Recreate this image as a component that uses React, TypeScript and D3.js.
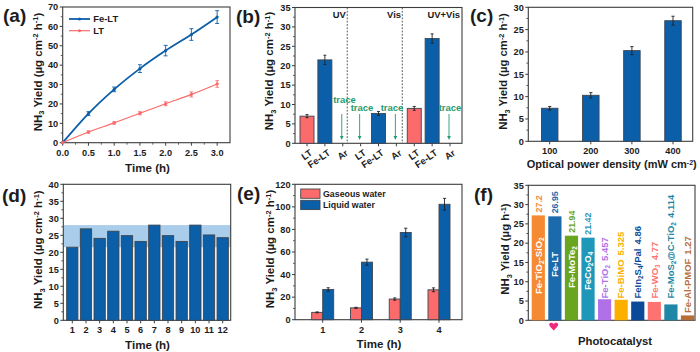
import React from "react";
import * as d3 from "d3";

const FONT = "'Liberation Sans', Arial, sans-serif";
const INK = "#1c1c1c";
const BLUE = "#0b5ea8";
const RED = "#fb6b6b";
const FRAME = "#3c3c3c";

const timeA = [0, 0.5, 1, 1.5, 2, 2.5, 3];
const feLT = [0, 15, 27.5, 38.2, 47.5, 55.8, 64.8];
const feLTErr = [0, 1, 1.2, 2, 2.7, 3, 3.3];
const lt = [0, 5.5, 10.2, 15.2, 20.1, 24.9, 30.3];
const ltErr = [0, 0.6, 0.6, 0.8, 1, 1.3, 1.7];

const catB = ["LT", "Fe-LT", "Ar", "LT", "Fe-LT", "Ar", "LT", "Fe-LT", "Ar"];
const valB = [7, 21.5, null, null, 7.7, null, 9, 27, null];
const errB = [0.4, 1.2, 0, 0, 0.5, 0, 0.5, 1.2, 0];
const traceB = [2, 3, 5, 8];
const dividersB = [2.25, 5.33];

const catC = ["100", "200", "300", "400"];
const valC = [7.4, 10.3, 20.3, 27];
const errC = [0.4, 0.6, 0.9, 1];

const catD = ["1", "2", "3", "4", "5", "6", "7", "8", "9", "10", "11", "12"];
const valD = [21.5, 26.9, 24.1, 26.2, 24.9, 23.2, 28, 24.9, 23.2, 28, 25.1, 24.3];
const bandD = [21.5, 28];

const catE = ["1", "2", "3", "4"];
const gasE = [6.5, 10.5, 18.3, 26.5];
const gasErr = [0.4, 0.5, 1, 1.7];
const liqE = [26.8, 51, 77.3, 102.3];
const liqErr = [1.5, 2.7, 3.8, 5.2];

const namesF = [
  ["Fe-TiO", "2", "-SiO", "2"],
  ["Fe-LT"],
  ["Fe-MoTe", "2"],
  ["FeCo", "2", "O", "4"],
  ["Fe-TiO", "2"],
  ["Fe-BiMO"],
  ["FeIn", "2", "S", "4", "/Pal"],
  ["Fe-WO", "3"],
  ["Fe-MoS", "2", "@C-TiO", "2"],
  ["Fe-Al-PMOF"],
];
const valF = [27.2, 26.95, 21.94, 21.42, 5.457, 5.325, 4.86, 4.77, 4.114, 1.27];
const labelF = ["27.2", "26.95", "21.94", "21.42", "5.457", "5.325", "4.86", "4.77", "4.114", "1.27"];
const colF = ["#f58a33", "#1a6aac", "#6aa520", "#1f97b8", "#b071e8", "#fbb000", "#0b4a9a", "#ff7272", "#1d87a5", "#b5703a"];

type Box = { l: number; r: number; t: number; b: number };

function T(p: any) {
  return <text fontFamily={FONT} fontWeight={700} fill={INK} {...p} />;
}

function YTitle({ x, y, size = 11.5, unit = "cm" }: any) {
  return (
    <text transform={`translate(${x},${y}) rotate(-90)`} textAnchor="middle" fontFamily={FONT} fontWeight={700} fontSize={size} fill={INK}>
      NH<tspan fontSize={size * 0.65} dy={2.5}>3</tspan>
      <tspan dy={-2.5}> Yield (µg </tspan>
      {unit === "cm" ? (
        <>
          <tspan>cm</tspan>
          <tspan fontSize={size * 0.65} dy={-3.5}>-2</tspan>
          <tspan dy={3.5}> h</tspan>
        </>
      ) : (
        <tspan>h</tspan>
      )}
      <tspan fontSize={size * 0.65} dy={-3.5}>-1</tspan>
      <tspan dy={3.5}>)</tspan>
    </text>
  );
}

function Frame({ box, y, yTicks, yMinor, xTicks, xMinor, tickSize = 9.2 }: any) {
  return (
    <g>
      <rect x={box.l} y={box.t} width={box.r - box.l} height={box.b - box.t} fill="none" stroke={FRAME} strokeWidth={1.1} />
      {yTicks.map((v: number) => (
        <g key={v}>
          <line x1={box.l - 3} x2={box.l} y1={y(v)} y2={y(v)} stroke={FRAME} strokeWidth={1} />
          <T x={box.l - 4.5} y={y(v) + 3.3} textAnchor="end" fontSize={tickSize}>{v}</T>
        </g>
      ))}
      {(yMinor || []).map((v: number) => (
        <line key={v} x1={box.l - 2} x2={box.l} y1={y(v)} y2={y(v)} stroke={FRAME} strokeWidth={0.8} />
      ))}
      {(xTicks || []).map((t: any, i: number) => (
        <g key={i}>
          <line x1={t.x} x2={t.x} y1={box.b} y2={box.b + 3} stroke={FRAME} strokeWidth={1} />
          {t.label != null && (
            <T x={t.x} y={box.b + 12.8} textAnchor="middle" fontSize={tickSize}>{t.label}</T>
          )}
        </g>
      ))}
      {(xMinor || []).map((x: number, i: number) => (
        <line key={i} x1={x} x2={x} y1={box.b} y2={box.b + 2} stroke={FRAME} strokeWidth={0.8} />
      ))}
    </g>
  );
}

function Err({ x, y0, y1, cap = 2 }: any) {
  return (
    <path d={`M${x - cap},${y0}H${x + cap}M${x},${y0}V${y1}M${x - cap},${y1}H${x + cap}`} fill="none" stroke="#222" strokeWidth={0.9} />
  );
}

function Bar({ x, w, y, base, fill }: any) {
  return <rect x={x - w / 2} y={y} width={w} height={base - y} fill={fill} stroke="#3d4650" strokeWidth={0.9} />;
}

function PanelA() {
  const box: Box = { l: 62.7, r: 230, t: 7, b: 142.7 };
  const x = d3.scaleLinear().domain([0, 3.25]).range([box.l, box.r]);
  const y = d3.scaleLinear().domain([0, 70]).range([box.b, box.t]);
  const line = d3.line<number>().x((_, i) => x(timeA[i])).y((d) => y(d)).curve(d3.curveMonotoneX);
  const series = [
    { v: feLT, e: feLTErr, c: BLUE, w: 1.8, cap: 2 },
    { v: lt, e: ltErr, c: RED, w: 1.2, cap: 1.8 },
  ];
  return (
    <g>
      <Frame box={box} y={y} yTicks={d3.range(0, 71, 10)} yMinor={d3.range(5, 70, 10)}
        xTicks={timeA.map((t) => ({ x: x(t), label: t.toFixed(1) }))}
        xMinor={d3.range(0.25, 3.25, 0.5).map((t) => x(t))} />
      {series.map((s, k) => (
        <g key={k}>
          <path d={line(s.v) || ""} fill="none" stroke={s.c} strokeWidth={s.w} />
          {s.v.map((v, i) => (
            <g key={i}>
              {s.e[i] > 0 && (
                <path d={`M${x(timeA[i]) - s.cap},${y(v - s.e[i])}H${x(timeA[i]) + s.cap}M${x(timeA[i])},${y(v - s.e[i])}V${y(v + s.e[i])}M${x(timeA[i]) - s.cap},${y(v + s.e[i])}H${x(timeA[i]) + s.cap}`} fill="none" stroke={s.c} strokeWidth={0.9} />
              )}
              <circle cx={x(timeA[i])} cy={y(v)} r={1.6} fill={s.c} />
            </g>
          ))}
        </g>
      ))}
      <line x1={69} x2={90} y1={19} y2={19} stroke={BLUE} strokeWidth={1.8} />
      <circle cx={79.5} cy={19} r={1.5} fill={BLUE} />
      <T x={93.3} y={22.3} fontSize={9.4}>Fe-LT</T>
      <line x1={69} x2={90} y1={30.7} y2={30.7} stroke={RED} strokeWidth={1.2} />
      <circle cx={79.5} cy={30.7} r={1.5} fill={RED} />
      <T x={93.3} y={34} fontSize={9.4}>LT</T>
      <YTitle x={41.5} y={72} />
      <T x={147.5} y={172} textAnchor="middle" fontSize={11.6}>Time (h)</T>
      <T x={3} y={22} fontSize={19}>(a)</T>
    </g>
  );
}

function PanelB() {
  const box: Box = { l: 295, r: 462, t: 7.5, b: 143.3 };
  const x = d3.scaleLinear().domain([0, 8]).range([307, 450]);
  const y = d3.scaleLinear().domain([0, 35]).range([box.b, box.t]);
  const traceY = [103, 111, 110.5, 111];
  const traceX = [344.5, 362, 392, 450];
  const GREEN = "#1f9d70";
  return (
    <g>
      <Frame box={box} y={y} yTicks={d3.range(0, 36, 5)} yMinor={d3.range(2.5, 35, 5)}
        xTicks={catB.map((_, i) => ({ x: x(i) }))} />
      {dividersB.map((v) => (
        <line key={v} x1={x(v)} x2={x(v)} y1={box.t} y2={box.b} stroke="#444" strokeWidth={0.9} strokeDasharray="1.8 1.5" />
      ))}
      {valB.map((v, i) => v == null ? null : (
        <g key={i}>
          <Bar x={x(i)} w={14} y={y(v)} base={box.b} fill={i % 3 === 0 ? RED : BLUE} />
          <Err x={x(i)} y0={y(v - errB[i])} y1={y(v + errB[i])} cap={1.5} />
        </g>
      ))}
      {catB.map((c, i) => (
        <T key={i} transform={`translate(${x(i) + 6},${box.b + 11}) rotate(-35)`} textAnchor="end" fontSize={9.4}>{c}</T>
      ))}
      {traceB.map((b, k) => (
        <g key={k}>
          <T x={traceX[k]} y={traceY[k]} textAnchor="middle" fontSize={9.5} fill={GREEN}>trace</T>
          <line x1={x(b) - 1} x2={x(b) - 1} y1={114} y2={137} stroke={GREEN} strokeWidth={0.9} />
          <path d={`M${x(b) - 2.8},${136}H${x(b) + 0.8}L${x(b) - 1},${140}Z`} fill={GREEN} />
        </g>
      ))}
      <T x={345.7} y={17.5} textAnchor="end" fontSize={9.4}>UV</T>
      <T x={401} y={17.5} textAnchor="end" fontSize={9.4}>Vis</T>
      <T x={460} y={17.5} textAnchor="end" fontSize={9.4}>UV+Vis</T>
      <YTitle x={273} y={71} />
      <T x={236} y={23} fontSize={19}>(b)</T>
    </g>
  );
}

function PanelC() {
  const box: Box = { l: 528.3, r: 692.7, t: 7.3, b: 141.3 };
  const x = d3.scalePoint<string>().domain(catC).range([549.7, 673]);
  const y = d3.scaleLinear().domain([0, 30]).range([box.b, box.t]);
  return (
    <g>
      <Frame box={box} y={y} yTicks={d3.range(0, 31, 5)} yMinor={d3.range(2.5, 30, 5)}
        xTicks={catC.map((c) => ({ x: x(c), label: c }))} />
      {valC.map((v, i) => (
        <g key={i}>
          <Bar x={x(catC[i])} w={16.5} y={y(v)} base={box.b} fill={BLUE} />
          <Err x={x(catC[i])} y0={y(v - errC[i])} y1={y(v + errC[i])} cap={1.6} />
        </g>
      ))}
      <YTitle x={507} y={71.5} size={11.3} />
      <text x={611.7} y={168} textAnchor="middle" fontFamily={FONT} fontWeight={700} fontSize={11} fill={INK}>
        Optical power density (mW cm<tspan fontSize={7} dy={-3.5}>-2</tspan><tspan dy={3.5}>)</tspan>
      </text>
      <T x={470} y={22} fontSize={19}>(c)</T>
    </g>
  );
}

function PanelD() {
  const box: Box = { l: 63.3, r: 230.7, t: 184.3, b: 320.3 };
  const x = d3.scalePoint<string>().domain(catD).range([72.3, 222.7]);
  const y = d3.scaleLinear().domain([0, 40]).range([box.b, box.t]);
  return (
    <g>
      <rect x={box.l} y={y(bandD[1])} width={box.r - box.l} height={y(bandD[0]) - y(bandD[1])} fill="#a9cdea" />
      <Frame box={box} y={y} yTicks={d3.range(0, 41, 5)} yMinor={d3.range(2.5, 40, 5)}
        xTicks={catD.map((c) => ({ x: x(c), label: c }))} />
      {valD.map((v, i) => (
        <Bar key={i} x={x(catD[i])} w={11.3} y={y(v)} base={box.b} fill={BLUE} />
      ))}
      <YTitle x={42} y={249.7} />
      <T x={147.5} y={349} textAnchor="middle" fontSize={11.6}>Time (h)</T>
      <T x={2} y={202} fontSize={19}>(d)</T>
    </g>
  );
}

function PanelE() {
  const box: Box = { l: 295, r: 462, t: 184.3, b: 319.7 };
  const x = d3.scalePoint<string>().domain(catE).range([322.7, 439]);
  const y = d3.scaleLinear().domain([0, 120]).range([box.b, box.t]);
  const w = 11;
  return (
    <g>
      <Frame box={box} y={y} yTicks={d3.range(0, 121, 20)} yMinor={d3.range(10, 120, 20)}
        xTicks={catE.map((c) => ({ x: x(c), label: c }))} />
      {catE.map((c, i) => (
        <g key={c}>
          <Bar x={x(c) - w / 2} w={w} y={y(gasE[i])} base={box.b} fill={RED} />
          <Err x={x(c) - w / 2} y0={y(gasE[i] - gasErr[i])} y1={y(gasE[i] + gasErr[i])} cap={1.6} />
          <Bar x={x(c) + w / 2} w={w} y={y(liqE[i])} base={box.b} fill={BLUE} />
          <Err x={x(c) + w / 2} y0={y(liqE[i] - liqErr[i])} y1={y(liqE[i] + liqErr[i])} cap={1.6} />
        </g>
      ))}
      <rect x={300.7} y={189} width={19.3} height={9.3} fill={RED} stroke="#4a4a4a" strokeWidth={0.9} />
      <rect x={300.7} y={200.3} width={19.3} height={9.3} fill={BLUE} stroke="#3d4650" strokeWidth={0.9} />
      <T x={323} y={197.2} fontSize={8.8}>Gaseous water</T>
      <T x={323} y={208.2} fontSize={8.8}>Liquid water</T>
      <YTitle x={274} y={249} />
      <T x={379} y={347.5} textAnchor="middle" fontSize={11.6}>Time (h)</T>
      <T x={237} y={200} fontSize={19}>(e)</T>
    </g>
  );
}

const F_SIZE = 9.5;

function Name({ parts, size }: { parts: string[]; size: number }) {
  return (
    <>
      {parts.map((p, i) => {
        const sub = i % 2 === 1;
        const prevSub = i > 0 && !sub;
        return (
          <tspan key={i} fontSize={sub ? size * 0.68 : size} dy={sub ? 2 : prevSub ? -2 : 0}>{p}</tspan>
        );
      })}
    </>
  );
}

function PanelF() {
  const box: Box = { l: 528.3, r: 695, t: 185.3, b: 320.3 };
  const x = d3.scaleLinear().domain([0, 9]).range([538.3, 687.5]);
  const y = d3.scaleLinear().domain([0, 35]).range([box.b, box.t]);
  const nameY = [294, 277, 288, 290, 298.5, 298.5, 298.5, 298.5, 298.5, 313];
  return (
    <g>
      <Frame box={box} y={y} yTicks={d3.range(0, 36, 5)} yMinor={d3.range(2.5, 35, 5)}
        xTicks={[]} />
      {valF.map((v, i) => (
        <rect key={i} x={x(i) - 6.6} y={y(v)} width={13.2} height={box.b - y(v)} fill={colF[i]} />
      ))}
      {namesF.map((n, i) => {
        const inside = i < 4;
        const fill = inside ? "#ffffff" : colF[i];
        return (
          <text key={i} transform={`translate(${x(i) + 3.3},${nameY[i]}) rotate(-90)`} fontFamily={FONT} fontWeight={700} fontSize={F_SIZE} fill={fill}>
            <Name parts={n} size={F_SIZE} />
            {inside ? null : <tspan dx={4} dy={n.length % 2 === 0 ? -2 : 0}>{labelF[i]}</tspan>}
          </text>
        );
      })}
      {[0, 1, 2, 3].map((i) => (
        <text key={i} transform={`translate(${x(i) + 3.3},${y(valF[i]) - 3}) rotate(-90)`} fontFamily={FONT} fontWeight={700} fontSize={8.8} fill={colF[i]}>
          {labelF[i]}
        </text>
      ))}
      <path d="M553.7,330.5 C551.4,328 549.2,326.4 549.2,324.6 C549.2,322.4 552.2,322 553.7,324 C555.2,322 558.2,322.4 558.2,324.6 C558.2,326.4 556,328 553.7,330.5Z" fill="#ef2a7d" />
      <YTitle x={509} y={249} size={11.4} unit="g" />
      <T x={615} y={345} textAnchor="middle" fontSize={11.3}>Photocatalyst</T>
      <T x={474} y={201} fontSize={19}>(f)</T>
    </g>
  );
}

export default function App() {
  return (
    <svg width={700} height={352} viewBox="0 0 700 352" style={{ position: "absolute", left: 0, top: 0, background: "#fff" }}>
      <PanelA />
      <PanelB />
      <PanelC />
      <PanelD />
      <PanelE />
      <PanelF />
    </svg>
  );
}
